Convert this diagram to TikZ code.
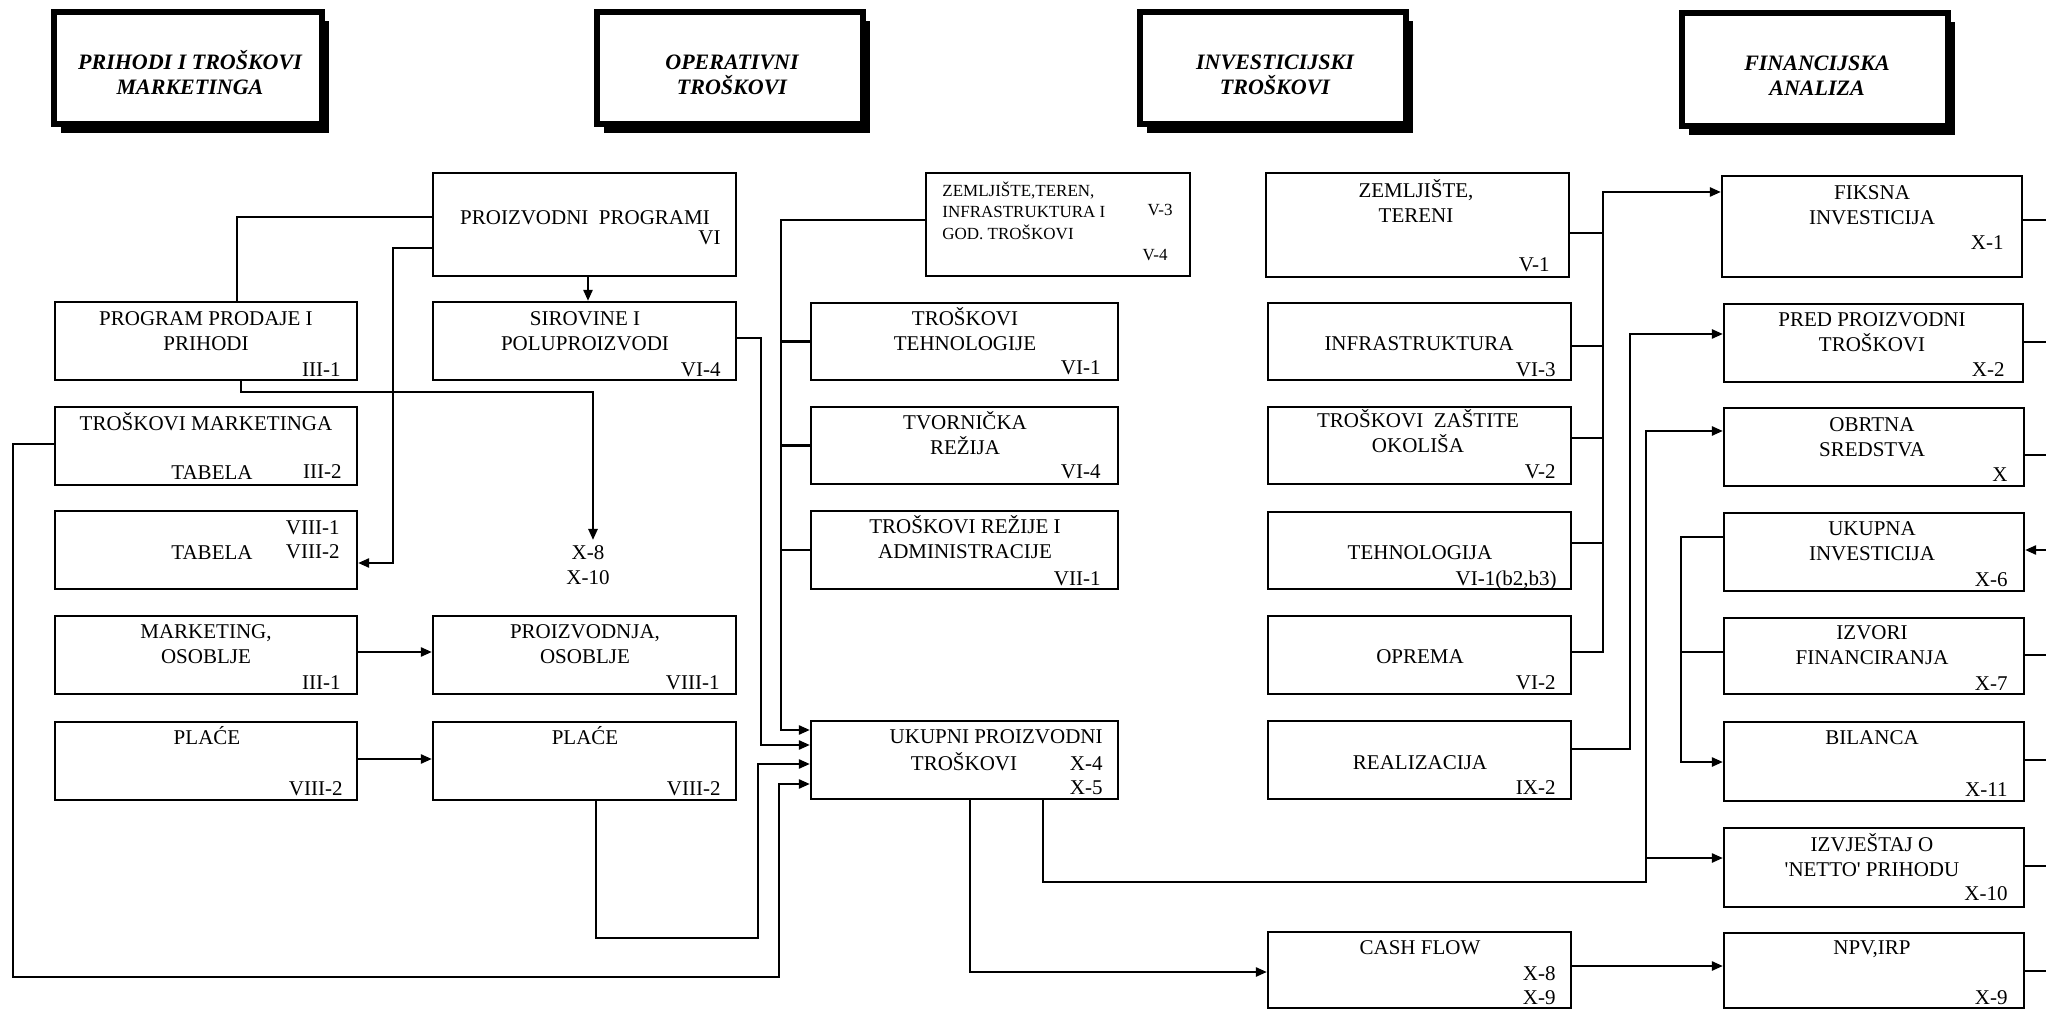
\documentclass[tikz,border=0pt]{standalone}
\usepackage{fontspec}
\setmainfont{Liberation Serif}
\usetikzlibrary{arrows.meta,fit,shadows}

\newcommand\capst{\rule{0pt}{9.6pt}}
\newcommand\hdrst{\rule{0pt}{10.5pt}}
\newcommand\smst{\rule{0pt}{8pt}}

\tikzset{
	box/.style={draw, line width=1.1pt, inner sep=0pt},
	hdr/.style={draw, fill=white, line width=3pt, inner sep=0pt, drop shadow={shadow xshift=3.5pt, shadow yshift=-4.5pt, opacity=1, fill=black}},
	hdrtxt/.style={anchor=north, align=center, inner sep=0pt, font=\fontsize{11}{12.5}\selectfont\bfseries\itshape},
	txt/.style={anchor=north, align=center, inner sep=0pt, font=\fontsize{10.5}{12.5}\selectfont},
	smalltxt/.style={anchor=north west, align=left, inner sep=0pt, font=\fontsize{8.5}{10.75}\selectfont},
	ref/.style={anchor=base east, inner sep=0pt, font=\fontsize{10.5}{12.5}\selectfont},
	con/.style={line width=1.2pt},
	arr/.style={con, -{Triangle[length=5.5pt,width=4.5pt]}}
}

\begin{document}
\begin{tikzpicture}[x=0.5pt, y=-0.5pt]

	\useasboundingbox (0,0) rectangle (2046,1010);

	\node[hdr, fit={(54,12) (322,124)}] (hPrihodi) {};
	\node[hdrtxt] at (190,48) {\hdrst PRIHODI I TROŠKOVI\\MARKETINGA};
	\node[hdr, fit={(597,12) (863,124)}] (hOperativni) {};
	\node[hdrtxt] at (732,48) {\hdrst OPERATIVNI\\TROŠKOVI};
	\node[hdr, fit={(1140,12) (1406,124)}] (hInvest) {};
	\node[hdrtxt] at (1275,48) {\hdrst INVESTICIJSKI\\TROŠKOVI};
	\node[hdr, fit={(1682,13) (1948,126)}] (hFinanc) {};
	\node[hdrtxt] at (1817,49) {\hdrst FINANCIJSKA\\ANALIZA};

	\node[box, fit={(55,302) (357,380)}] (prog) {};
	\node[txt] at (206,306) {\capst PROGRAM PRODAJE I\\PRIHODI};
	\node[ref] at (341,377) {III-1};
	\node[box, fit={(55,407) (357,485)}] (trosMark) {};
	\node[txt] at (206,411) {\capst TROŠKOVI MARKETINGA};
	\node[txt] at (212,460) {\capst TABELA};
	\node[ref] at (342,479) {III-2};
	\node[box, fit={(55,511) (357,589)}] (tabela) {};
	\node[ref] at (340,534) {VIII-1};
	\node[txt] at (212,540) {\capst TABELA};
	\node[ref] at (340,559) {VIII-2};
	\node[box, fit={(55,616) (357,694)}] (markOsob) {};
	\node[txt] at (206,619) {\capst MARKETING,\\OSOBLJE};
	\node[ref] at (341,689) {III-1};
	\node[box, fit={(55,722) (357,800)}] (placeA) {};
	\node[txt] at (207,725) {\capst PLAĆE};
	\node[ref] at (343,795) {VIII-2};

	\node[box, fit={(433,173) (736,276)}] (proizProg) {};
	\node[txt] at (585,205) {\capst PROIZVODNI~~PROGRAMI};
	\node[ref] at (721,245) {VI};
	\node[box, fit={(433,302) (736,380)}] (sirov) {};
	\node[txt] at (585,306) {\capst SIROVINE I\\POLUPROIZVODI};
	\node[ref] at (721,377) {VI-4};
	\node[txt] (xRef) at (588,540) {\capst X-8\\X-10};
	\node[box, fit={(433,616) (736,694)}] (proizOsob) {};
	\node[txt] at (585,619) {\capst PROIZVODNJA,\\OSOBLJE};
	\node[ref] at (720,689) {VIII-1};
	\node[box, fit={(433,722) (736,800)}] (placeB) {};
	\node[txt] at (585,725) {\capst PLAĆE};
	\node[ref] at (721,795) {VIII-2};

	\node[box, fit={(926,173) (1190,276)}] (zemTeren) {};
	\node[smalltxt] at (942,180) {\smst ZEMLJIŠTE,TEREN,\\INFRASTRUKTURA I\\GOD. TROŠKOVI};
	\node[ref, font=\fontsize{8.5}{10.75}\selectfont] at (1173,216) {V-3};
	\node[ref, font=\fontsize{8.5}{10.75}\selectfont] at (1168,261) {V-4};
	\node[box, fit={(811,303) (1118,380)}] (trosTehn) {};
	\node[txt] at (965,306) {\capst TROŠKOVI\\TEHNOLOGIJE};
	\node[ref] at (1101,375) {VI-1};
	\node[box, fit={(811,407) (1118,484)}] (tvorRez) {};
	\node[txt] at (965,410) {\capst TVORNIČKA\\REŽIJA};
	\node[ref] at (1101,479) {VI-4};
	\node[box, fit={(811,511) (1118,589)}] (rezAdm) {};
	\node[txt] at (965,514) {\capst TROŠKOVI REŽIJE I\\ADMINISTRACIJE};
	\node[ref] at (1101,585) {VII-1};
	\node[box, fit={(811,721) (1118,799)}] (ukupProiz) {};
	\node[txt, anchor=north east] at (1103,724) {\capst UKUPNI PROIZVODNI};
	\node[txt] at (964,751) {\capst TROŠKOVI};
	\node[ref] at (1103,770) {X-4};
	\node[ref] at (1103,794) {X-5};

	\node[box, fit={(1266,173) (1569,277)}] (zemTereni) {};
	\node[txt] at (1416,178) {\capst ZEMLJIŠTE,\\TERENI};
	\node[ref] at (1550,272) {V-1};
	\node[box, fit={(1268,303) (1571,380)}] (infra) {};
	\node[txt] at (1419,331) {\capst INFRASTRUKTURA};
	\node[ref] at (1556,377) {VI-3};
	\node[box, fit={(1268,407) (1571,484)}] (zastita) {};
	\node[txt] at (1418,408) {\capst TROŠKOVI~~ZAŠTITE\\OKOLIŠA};
	\node[ref] at (1556,479) {V-2};
	\node[box, fit={(1268,512) (1571,589)}] (tehno) {};
	\node[txt] at (1420,540) {\capst TEHNOLOGIJA};
	\node[ref] at (1557,585) {VI-1(b2,b3)};
	\node[box, fit={(1268,616) (1571,694)}] (oprema) {};
	\node[txt] at (1420,644) {\capst OPREMA};
	\node[ref] at (1556,689) {VI-2};
	\node[box, fit={(1268,721) (1571,799)}] (realiz) {};
	\node[txt] at (1420,750) {\capst REALIZACIJA};
	\node[ref] at (1556,794) {IX-2};
	\node[box, fit={(1268,932) (1571,1008)}] (cashFlow) {};
	\node[txt] at (1420,935) {\capst CASH FLOW};
	\node[ref] at (1556,980) {X-8};
	\node[ref] at (1556,1004) {X-9};

	\node[box, fit={(1722,176) (2022,277)}] (fiksna) {};
	\node[txt] at (1872,180) {\capst FIKSNA\\INVESTICIJA};
	\node[ref] at (2004,250) {X-1};
	\node[box, fit={(1724,304) (2023,382)}] (predProiz) {};
	\node[txt] at (1872,307) {\capst PRED PROIZVODNI\\TROŠKOVI};
	\node[ref] at (2005,377) {X-2};
	\node[box, fit={(1724,408) (2024,486)}] (obrtna) {};
	\node[txt] at (1872,412) {\capst OBRTNA\\SREDSTVA};
	\node[ref] at (2008,482) {X};
	\node[box, fit={(1724,513) (2024,591)}] (ukupInv) {};
	\node[txt] at (1872,516) {\capst UKUPNA\\INVESTICIJA};
	\node[ref] at (2008,586) {X-6};
	\node[box, fit={(1724,618) (2024,694)}] (izvori) {};
	\node[txt] at (1872,620) {\capst IZVORI\\FINANCIRANJA};
	\node[ref] at (2008,690) {X-7};
	\node[box, fit={(1724,722) (2024,801)}] (bilanca) {};
	\node[txt] at (1872,725) {\capst BILANCA};
	\node[ref] at (2008,796) {X-11};
	\node[box, fit={(1724,828) (2024,907)}] (netto) {};
	\node[txt] at (1872,832) {\capst IZVJEŠTAJ O\\\textquotesingle NETTO\textquotesingle{} PRIHODU};
	\node[ref] at (2008,900) {X-10};
	\node[box, fit={(1724,933) (2024,1008)}] (npv) {};
	\node[txt] at (1872,935) {\capst NPV,IRP};
	\node[ref] at (2008,1004) {X-9};

	\coordinate (spineOp) at (781,0);
	\coordinate (spineInv) at (1603,0);
	\coordinate (vertFin) at (1646,0);
	\coordinate (edge) at (2046,0);

	\draw[con] (proizProg.west |- 0,217) -| (237,0 |- prog.north);
	\draw[arr] (proizProg.west |- 0,248) -| (393,563) -- (tabela.east |- 0,563);
	\draw[arr] (588,0 |- proizProg.south) -- (588,0 |- sirov.north);
	\draw[arr] (241,0 |- prog.south) |- (593,392) -- (593,0 |- xRef.north);
	\draw[arr] (trosMark.west |- 0,444) -| (13,977) -| (779,784) -- (ukupProiz.west |- 0,784);
	\draw[arr] (markOsob.east |- 0,652) -- (proizOsob.west |- 0,652);
	\draw[arr] (placeA.east |- 0,759) -- (placeB.west |- 0,759);
	\draw[arr] (596,0 |- placeB.south) |- (758,938) |- (ukupProiz.west |- 0,764);
	\draw[arr] (sirov.east |- 0,338) -| (761,745) -- (ukupProiz.west |- 0,745);
	\draw[arr] (zemTeren.west |- 0,220) -| (spineOp |- 0,730) -- (ukupProiz.west |- 0,730);
	\foreach \n in {trosTehn,tvorRez,rezAdm}
		\draw[con] (\n.west) -- (spineOp |- \n.west);

	\draw[arr] (970,0 |- ukupProiz.south) |- (cashFlow.west |- 0,972);
	\draw[arr] (1043,0 |- ukupProiz.south) |- (vertFin |- 0,882) |- (obrtna.west |- 0,431);
	\draw[arr] (vertFin |- 0,858) -- (netto.west |- 0,858);

	\draw[arr] (oprema.east |- 0,652) -| (spineInv |- 0,192) -- (fiksna.west |- 0,192);
	\foreach \n/\y in {zemTereni/233, infra/346, zastita/438, tehno/543}
		\draw[con] (\n.east |- 0,\y) -- (spineInv |- 0,\y);
	\draw[arr] (realiz.east |- 0,749) -| (1630,334) -- (predProiz.west |- 0,334);
	\draw[arr] (ukupInv.west |- 0,537) -| (1681,762) -- (bilanca.west |- 0,762);
	\draw[con] (izvori.west |- 0,652) -- (1681,652);
	\draw[arr] (cashFlow.east |- 0,966) -- (npv.west |- 0,966);

	\foreach \n/\y in {fiksna/220, predProiz/342, obrtna/455, izvori/655, bilanca/760, netto/866, npv/971}
		\draw[con] (\n.east |- 0,\y) -- (edge |- 0,\y);
	\draw[arr] (edge |- 0,550) -- (ukupInv.east |- 0,550);

\end{tikzpicture}
\end{document}
